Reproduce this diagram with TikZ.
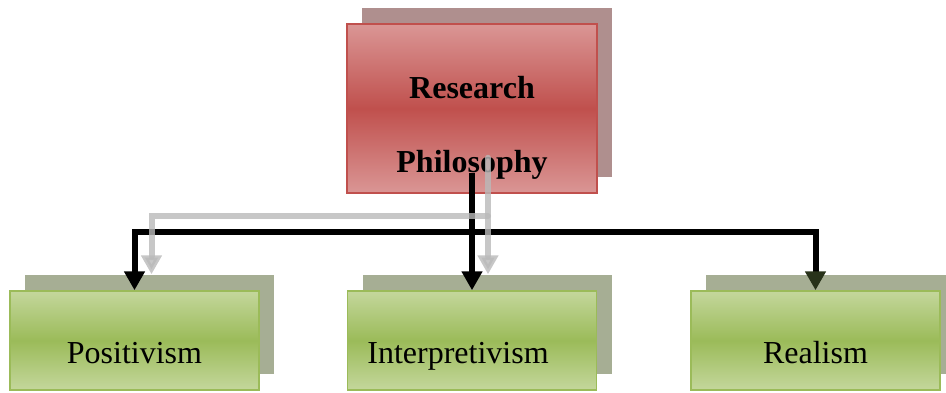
\documentclass[tikz,border=0pt]{standalone}
\usepackage{fontspec}
\setmainfont{Liberation Serif}
\usetikzlibrary{arrows.meta,shadows}

\definecolor{redlight}{RGB}{218,150,149}
\definecolor{reddark}{RGB}{192,80,77}
\definecolor{redshadow}{RGB}{175,143,142}
\definecolor{greenlight}{RGB}{196,215,156}
\definecolor{greendark}{RGB}{155,187,89}
\definecolor{greenshadow}{RGB}{166,174,148}
\definecolor{linkgray}{RGB}{185,185,185}
\definecolor{olivetip}{RGB}{40,50,26}

\tikzset{
  rootbox/.style={draw=reddark, line width=1.5pt,
    top color=redlight, bottom color=redlight, middle color=reddark,
    minimum width=250pt, minimum height=169pt, inner sep=0pt,
    font=\fontsize{32}{38}\selectfont\bfseries,
    general shadow={shadow xshift=15pt, shadow yshift=16pt, fill=redshadow}},
  leafbox/.style={draw=greendark, line width=1.5pt,
    top color=greenlight, bottom color=greenlight, middle color=greendark,
    minimum width=249pt, minimum height=99pt, inner sep=0pt,
    text height=50pt, text depth=5pt,
    font=\fontsize{32}{38}\selectfont,
    general shadow={shadow xshift=15pt, shadow yshift=16pt, fill=greenshadow}},
  link/.style={line width=6pt, -{Triangle[width=20pt,length=19pt]}},
  ghostlink/.style={link, draw=linkgray, opacity=0.8, line cap=round}
}

\begin{document}
\begin{tikzpicture}[x=1pt,y=-1pt]
  \useasboundingbox (0,0) rectangle (946,392);

  % Draw research philosophy
  \node[rootbox] (phil) at (472,108.5)
    {\raisebox{-26pt}[0pt][0pt]{\begin{tabular}{@{}c@{}}Research\\[36pt]Philosophy\end{tabular}}};

  % Draw philosophies
  \node[leafbox] (pos) at (134.5,340.5) {Positivism};
  \node[leafbox] (interp) at (472,340.5) {Interpretivism\kern28pt};
  \node[leafbox] (real) at (815.5,340.5) {Realism};

  % Draw links
  \coordinate (trunk) at ([yshift=21pt]phil.south);
  \coordinate (bus) at (0,232);
  \draw[link] (trunk) -- (interp.north);
  \draw[link] (trunk) -- (trunk |- bus) -| (pos.north);
  \draw[link, -{Triangle[width=20pt,length=19pt,color=olivetip]}] (trunk |- bus) -| (real.north);

  % Draw shadow of links
  \coordinate (ghost) at ([shift={(16,-15)}]trunk);
  \coordinate (ghostbus) at (0,216);
  \draw[ghostlink] (ghost) -- ([shift={(16,-16)}]interp.north);
  \draw[ghostlink] (ghost |- ghostbus) -| ([shift={(17,-16)}]pos.north);

\end{tikzpicture}
\end{document}
